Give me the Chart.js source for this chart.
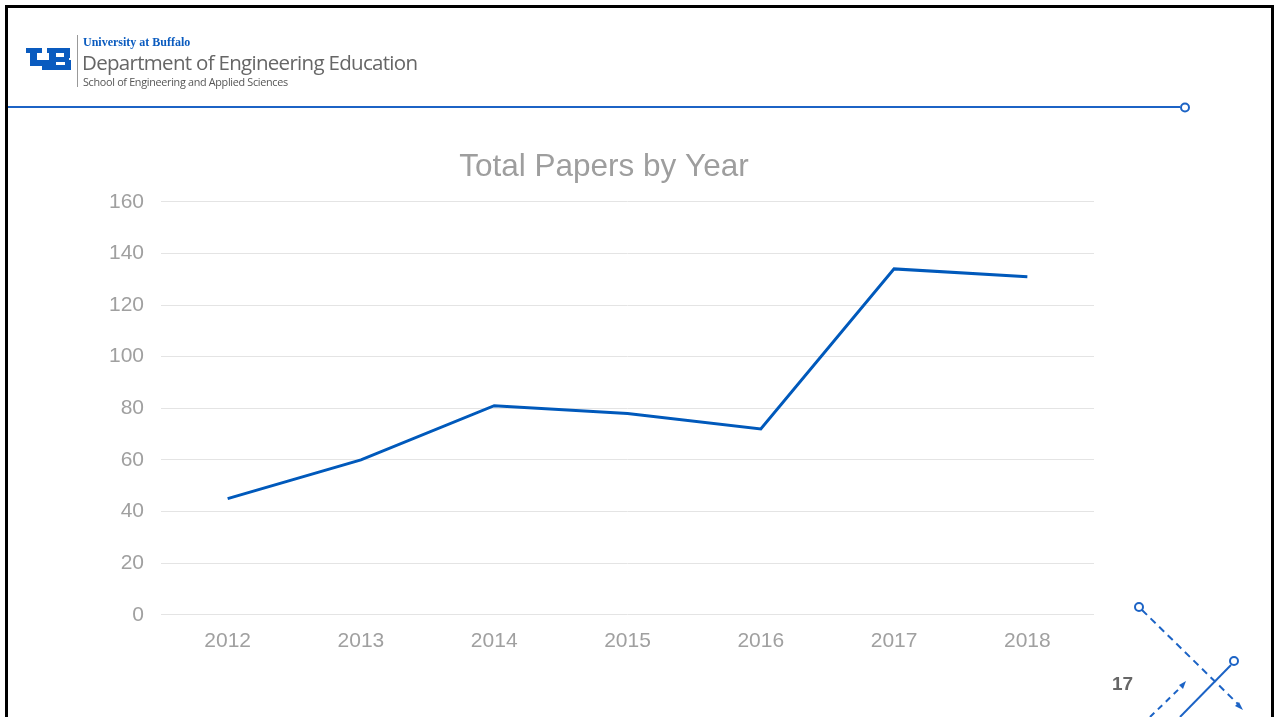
<!DOCTYPE html>
<html>
<head>
<meta charset="utf-8">
<script src="https://cdn.jsdelivr.net/npm/chart.js@4.4.1/dist/chart.umd.min.js"></script>
<style>
  html, body { margin: 0; padding: 0; background: #fff; }
  #slide { position: relative; width: 1275px; height: 717px; overflow: hidden; background: #fff; }
  #frame { position: absolute; left: 5px; top: 5px; width: 1263px; height: 760px; border: 3px solid #000; }
  #chartBox { position: absolute; left: 0; top: 0; width: 1275px; height: 717px; }
  .hdr { position: absolute; white-space: nowrap; line-height: 1; }
  #ub1 { left: 83px; top: 35px; font: bold 12px "Liberation Serif", serif; color: #0a5bbf; }
  #ub2 { left: 82px; top: 48px; font: 20.5px "Open Sans", sans-serif; color: #666; letter-spacing: -0.7px; }
  #ub3 { left: 83px; top: 74px; font: 10.8px "Open Sans", sans-serif; color: #555; letter-spacing: -0.3px; }
  #sep { position: absolute; left: 77px; top: 35px; width: 1px; height: 52px; background: #999; }
  #pageNo { position: absolute; left: 1112px; top: 673px; font: bold 19px "Liberation Sans", Arial, sans-serif; color: #666; }
  svg { position: absolute; left: 0; top: 0; }
</style>
</head>
<body>
<div id="slide">
  <div id="chartBox"><canvas id="papersChart" width="1275" height="717"></canvas></div>
  <div id="frame"></div>
  <div id="sep"></div>
  <div class="hdr" id="ub1">University at Buffalo</div>
  <div class="hdr" id="ub2">Department of Engineering Education</div>
  <div class="hdr" id="ub3">School of Engineering and Applied Sciences</div>
  <div id="pageNo">17</div>
  <svg width="1275" height="717">
    <!-- UB mark, rough -->
    <g fill="#0a5bbf">
      <rect x="26" y="48" width="16" height="5"/>
      <rect x="30" y="48" width="7" height="16"/>
      <rect x="30" y="60" width="22" height="6"/>
      <rect x="47" y="48" width="23" height="5"/>
      <rect x="49" y="48" width="7" height="22"/>
      <rect x="49" y="57" width="20" height="5"/>
      <rect x="42" y="65" width="29" height="5"/>
      <rect x="64" y="48" width="6" height="10"/>
      <rect x="65" y="60" width="6" height="10"/>
    </g>
    <!-- header rule -->
    <line x1="8" y1="107" x2="1180" y2="107" stroke="#1c63c5" stroke-width="2"/>
    <circle cx="1185" cy="107.5" r="4" fill="#fff" stroke="#1c63c5" stroke-width="2"/>
    <!-- corner decoration -->
    <g stroke="#1c63c5" stroke-width="2" fill="none">
      <line x1="1142" y1="610" x2="1238" y2="704" stroke-dasharray="7,5"/>
      <circle cx="1139" cy="607" r="4" fill="#fff"/>
      <line x1="1231" y1="665" x2="1180" y2="717"/>
      <circle cx="1234" cy="661" r="4" fill="#fff"/>
      <line x1="1150" y1="717" x2="1181" y2="687" stroke-dasharray="6,5"/>
    </g>
    <polygon points="1243,710 1235,706 1239,702" fill="#1c63c5"/>
    <polygon points="1186,681 1183,689 1179,685" fill="#1c63c5"/>
  </svg>
</div>
<script>
var years = ["2012", "2013", "2014", "2015", "2016", "2017", "2018"];
var totalPapers = [45, 60, 81, 78, 72, 134, 131];
var yTicks = [0, 20, 40, 60, 80, 100, 120, 140, 160];

// the slide title sits a bit right of the canvas centre
var nudgeTitle = {
    id: 'nudgeTitle',
    afterLayout: function (chart) {
        if (chart.titleBlock) {
            chart.titleBlock.left += 7;
            chart.titleBlock.right += 7;
        }
    }
};

var ctx = document.getElementById("papersChart").getContext('2d');
var papersChart = new Chart(ctx, {
    type: 'line',
    data: {
        labels: years,
        datasets: [{
            label: "Total Papers",
            data: totalPapers,
            borderColor: "#0059bb",
            borderWidth: 3,
            pointRadius: 0,
            tension: 0,
            fill: false
        }]
    },
    options: {
        responsive: false,
        animation: false,
        layout: {
            padding: { left: 100, right: 181, top: 148, bottom: 57 }
        },
        plugins: {
            legend: { display: false },
            tooltip: { enabled: false },
            title: {
                display: true,
                text: "Total Papers by Year",
                color: "#9e9e9e",
                font: { family: "Liberation Sans", size: 31.5, weight: 'normal', lineHeight: 1.2 },
                padding: { top: 0, bottom: 16 }
            }
        },
        scales: {
            x: {
                offset: true,
                grid: { display: false },
                border: { display: false },
                ticks: {
                    color: "#a0a0a0",
                    font: { family: "Liberation Sans", size: 21 },
                    padding: 6,
                    maxRotation: 0
                }
            },
            y: {
                min: 0,
                max: 160,
                afterBuildTicks: function (scale) {
                    scale.ticks = yTicks.map(function (v) { return { value: v }; });
                },
                afterFit: function (scale) { scale.width = 61; },
                grid: { color: "#e4e4e4", lineWidth: 1, drawTicks: false },
                border: { display: false },
                ticks: {
                    color: "#a0a0a0",
                    font: { family: "Liberation Sans", size: 21 },
                    padding: 17
                }
            }
        }
    },
    plugins: [nudgeTitle]
});
</script>
</body>
</html>
